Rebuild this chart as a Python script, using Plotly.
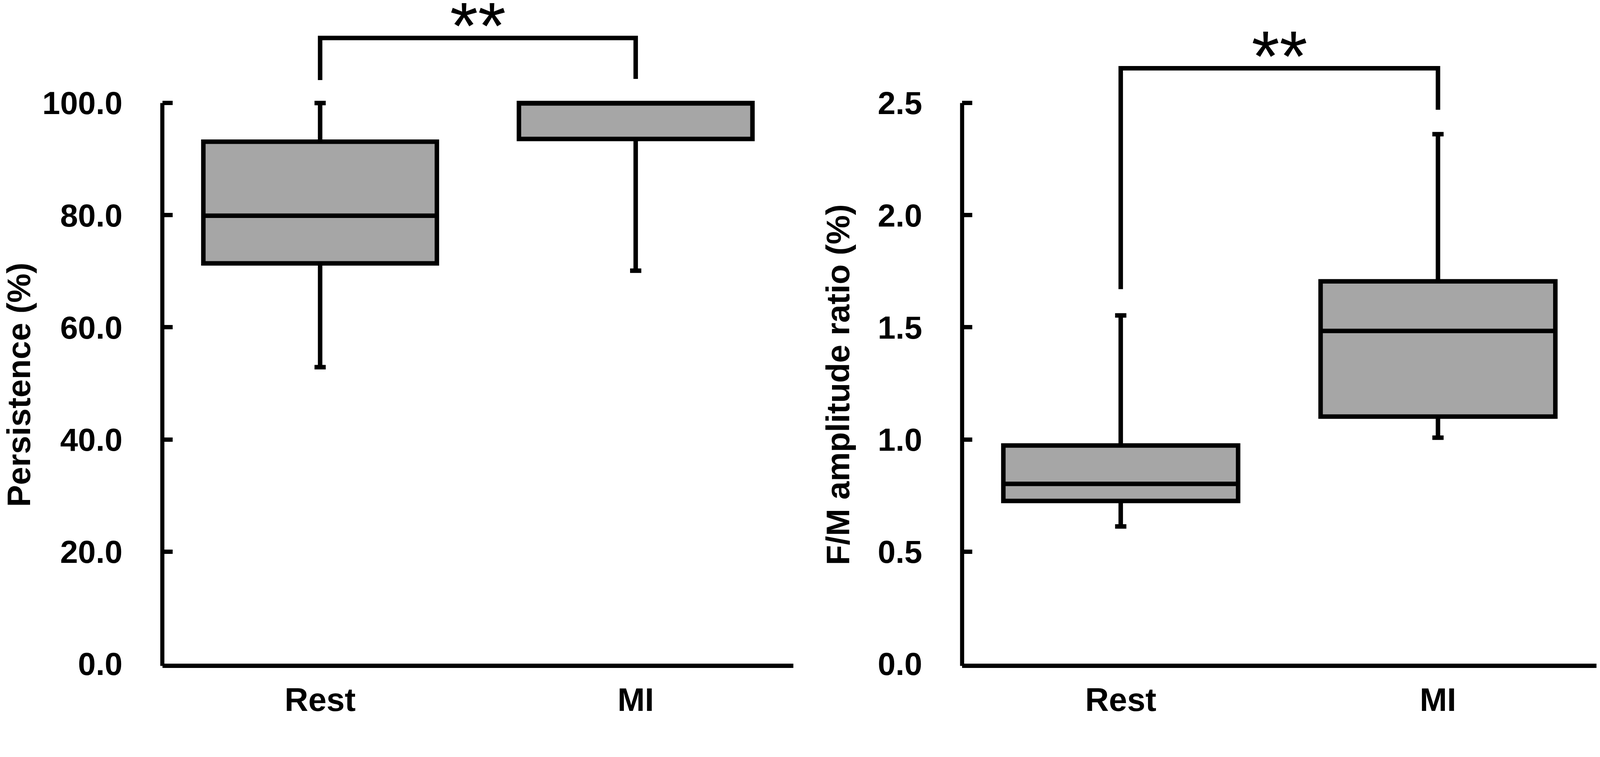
import plotly.graph_objects as go

# ---- data ----
GROUPS = ["Rest", "MI"]

# left panel: Persistence (%)
PERS_Q1 = [71.4, 93.6]
PERS_MED = [79.9, 100.0]
PERS_Q3 = [93.1, 100.0]
PERS_LO = [52.9, 70.1]
PERS_HI = [100.0, 100.0]
PERS_TICKS = [0, 20, 40, 60, 80, 100]
PERS_TICKTEXT = ["0.0", "20.0", "40.0", "60.0", "80.0", "100.0"]

# right panel: F/M amplitude ratio (%)
FM_Q1 = [0.726, 1.102]
FM_MED = [0.802, 1.484]
FM_Q3 = [0.973, 1.705]
FM_LO = [0.612, 1.008]
FM_HI = [1.553, 2.361]
FM_TICKS = [0, 0.5, 1.0, 1.5, 2.0, 2.5]
FM_TICKTEXT = ["0.0", "0.5", "1.0", "1.5", "2.0", "2.5"]

# significance brackets: (top, left leg end, right leg end) in data units
PERS_BRACKET = (111.6, 104.1, 104.3)
FM_BRACKET = (2.655, 1.67, 2.47)
SIG = "**"

# the page is photographed ~5% enlarged and offset by the 8px body margin,
# so lay the figure out in css px and map reference pixels onto it
K = 1.054
OFF = 8
W, H = 4088, 1831


def fx(px):
    return (px / K - OFF) / W


def fy(px):
    return 1 - (px / K - OFF) / H


FILL = "#a6a6a6"
INK = "black"
FONT = "Liberation Sans, Arial, sans-serif"

X1_DOM = [fx(438), fx(2141)]
X2_DOM = [fx(2596), fx(4308)]
Y_DOM = [fy(1791), fy(217.5)]
PERS_TOP = 104.0   # range slightly above 100 so the boxes are not clipped
FM_TOP = 2.6
STAR_SIZE = 184
STAR_BOTTOM = [74, 156]   # reference px of the star glyph bottoms


def py(v, top):
    """data value -> paper y for the shared vertical domain"""
    return Y_DOM[0] + v / top * (Y_DOM[1] - Y_DOM[0])


fig = go.Figure()

for q1, med, q3, lo, hi, xa, ya in [
        (PERS_Q1, PERS_MED, PERS_Q3, PERS_LO, PERS_HI, "x", "y"),
        (FM_Q1, FM_MED, FM_Q3, FM_LO, FM_HI, "x2", "y2")]:
    fig.add_trace(go.Box(
        x=GROUPS, q1=q1, median=med, q3=q3, lowerfence=lo, upperfence=hi,
        fillcolor=FILL, line=dict(color=INK, width=11.5),
        width=0.74, whiskerwidth=0.048, boxpoints=False,
        hoverinfo="skip", showlegend=False, xaxis=xa, yaxis=ya))

xcommon = dict(type="category", range=[-0.5, 1.5], showline=True,
               linewidth=10.5, linecolor=INK, ticks="", showgrid=False,
               zeroline=False, ticklabelstandoff=9, automargin=False,
               tickfont=dict(size=84, family=FONT, color=INK, weight="bold"))
ycommon = dict(domain=Y_DOM, showline=False, ticks="inside", ticklen=26,
               tickwidth=10.5, tickcolor=INK, showgrid=False, zeroline=False,
               ticklabelstandoff=101, automargin=False,
               tickfont=dict(size=82, family=FONT, color=INK, weight="bold"))

fig.update_layout(
    width=W, height=H, paper_bgcolor="white", plot_bgcolor="white",
    margin=dict(l=0, r=0, t=0, b=0, autoexpand=False),
    font=dict(family=FONT, color=INK),
    xaxis=dict(domain=X1_DOM, anchor="y", **xcommon),
    xaxis2=dict(domain=X2_DOM, anchor="y2", **xcommon),
    yaxis=dict(anchor="x", range=[0, PERS_TOP], tickvals=PERS_TICKS,
               ticktext=PERS_TICKTEXT, **ycommon),
    yaxis2=dict(anchor="x2", range=[0, FM_TOP], tickvals=FM_TICKS,
                ticktext=FM_TICKTEXT, **ycommon),
)

# y-axis lines stop at the top tick
for xd, top, tmax in [(X1_DOM[0], PERS_TOP, PERS_TICKS[-1]),
                      (X2_DOM[0], FM_TOP, FM_TICKS[-1])]:
    fig.add_shape(type="line", xref="paper", yref="paper",
                  x0=xd, x1=xd, y0=py(0, top) - 0.003, y1=py(tmax, top),
                  line=dict(color=INK, width=10.5))

# significance brackets
for xa, top, (btop, bl, br), sb in [("x", PERS_TOP, PERS_BRACKET, STAR_BOTTOM[0]),
                                    ("x2", FM_TOP, FM_BRACKET, STAR_BOTTOM[1])]:
    fig.add_shape(type="path", xref=xa, yref="paper",
                  path=f"M 0,{py(bl, top)} L 0,{py(btop, top)} "
                       f"L 1,{py(btop, top)} L 1,{py(br, top)}",
                  line=dict(color=INK, width=11.5))
    fig.add_annotation(x=0.5, xref=xa, yref="paper",
                       y=1 - (sb / K + 0.55 * STAR_SIZE - OFF) / H,
                       text=SIG, showarrow=False, yanchor="bottom",
                       font=dict(size=STAR_SIZE, family=FONT, color=INK))

# axis titles
fig.add_annotation(x=40 / W, y=0.4665, xref="paper", yref="paper",
                   xanchor="center", yanchor="middle",
                   text="<b>Persistence (%)</b>",
                   textangle=-90, showarrow=False, font=dict(size=84))
fig.add_annotation(x=2137 / W, y=0.4665, xref="paper", yref="paper",
                   xanchor="center", yanchor="middle",
                   text="<b>F/M amplitude ratio (%)</b>",
                   textangle=-90, showarrow=False, font=dict(size=84))

fig.write_html("out.html")
